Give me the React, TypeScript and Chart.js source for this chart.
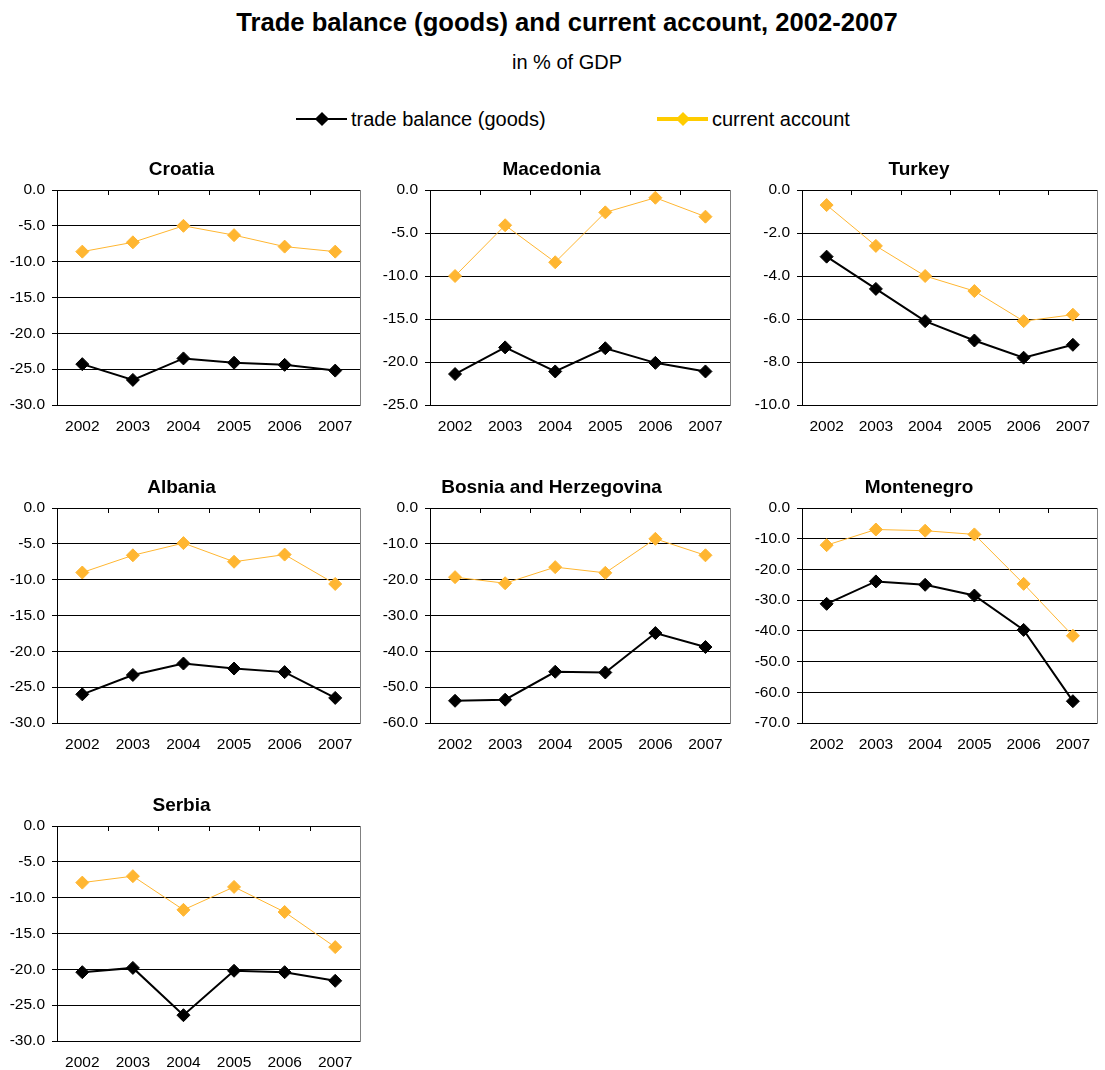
import React, { useEffect, useRef } from "react";
import { Chart, registerables } from "chart.js";

Chart.register(...registerables);

const FONT = "'Liberation Sans', Arial, Helvetica, sans-serif";

// Categories
const years = ["2002", "2003", "2004", "2005", "2006", "2007"];

// Series names
const tradeLabel = "trade balance (goods)";
const currentLabel = "current account";

// Values, % of GDP
const croatiaTrade = [-24.3, -26.5, -23.5, -24.1, -24.4, -25.2];
const croatiaCurrent = [-8.6, -7.3, -5.0, -6.3, -7.9, -8.6];
const macedoniaTrade = [-21.4, -18.3, -21.1, -18.4, -20.1, -21.1];
const macedoniaCurrent = [-10.0, -4.1, -8.4, -2.6, -0.9, -3.1];
const turkeyTrade = [-3.1, -4.6, -6.1, -7.0, -7.8, -7.2];
const turkeyCurrent = [-0.7, -2.6, -4.0, -4.7, -6.1, -5.8];
const albaniaTrade = [-26.0, -23.3, -21.7, -22.4, -22.9, -26.5];
const albaniaCurrent = [-9.0, -6.6, -4.9, -7.5, -6.5, -10.6];
const bosniaTrade = [-53.8, -53.5, -45.7, -45.9, -34.9, -38.8];
const bosniaCurrent = [-19.3, -21.0, -16.5, -18.1, -8.6, -13.2];
const montenegroTrade = [-31.2, -23.9, -25.0, -28.5, -39.7, -62.9];
const montenegroCurrent = [-12.1, -7.0, -7.4, -8.6, -24.7, -41.6];
const serbiaTrade = [-20.4, -19.8, -26.4, -20.2, -20.4, -21.6];
const serbiaCurrent = [-7.9, -7.0, -11.7, -8.5, -12.0, -16.9];

// Panel names and y-axis ranges (min, step; max is 0)
const countries = ["Croatia", "Macedonia", "Turkey", "Albania", "Bosnia and Herzegovina", "Montenegro", "Serbia"];
const tradeSeries = [croatiaTrade, macedoniaTrade, turkeyTrade, albaniaTrade, bosniaTrade, montenegroTrade, serbiaTrade];
const currentSeries = [croatiaCurrent, macedoniaCurrent, turkeyCurrent, albaniaCurrent, bosniaCurrent, montenegroCurrent, serbiaCurrent];
const axisMin = [-30, -25, -10, -30, -60, -70, -30];
const axisStep = [5, 5, 2, 5, 10, 10, 5];

const TRADE_COLOR = "#000000";
const CURRENT_COLOR = "#FFB631";
const LEGEND_CURRENT_COLOR = "#FFCC00";

// Grid placement of the small multiples
const colLeft = [0, 370, 735];
const colWidth = [368, 368, 370];
const colAxisWidth = [57, 60, 67];
const colPadRight = [5, 5, 2];
const rowTop = [150, 468, 786];
const PANEL_HEIGHT = 284;

// Plot frame: grey right edge and category tick marks hanging from the zero line
const framePlugin = {
  id: "panelFrame",
  beforeDatasetsDraw(chart: any) {
    const { ctx, chartArea: a, scales } = chart;
    const xs = scales.x;
    ctx.save();
    ctx.lineWidth = 1;
    ctx.strokeStyle = "#808080";
    ctx.beginPath();
    ctx.moveTo(Math.round(a.right) - 0.5, a.top);
    ctx.lineTo(Math.round(a.right) - 0.5, a.bottom);
    ctx.stroke();
    ctx.strokeStyle = "#000";
    ctx.beginPath();
    for (let i = 0; i < years.length - 1; i++) {
      const px = Math.round((xs.getPixelForValue(i) + xs.getPixelForValue(i + 1)) / 2) + 0.5;
      ctx.moveTo(px, a.top);
      ctx.lineTo(px, a.top + 5);
    }
    ctx.stroke();
    ctx.restore();
  },
};

function Panel({ index }: { index: number }) {
  const ref = useRef<HTMLCanvasElement | null>(null);
  const col = index % 3;
  const row = Math.floor(index / 3);

  useEffect(() => {
    if (!ref.current) return;
    const chart = new Chart(ref.current, {
      type: "line",
      data: {
        labels: years,
        datasets: [
          {
            label: tradeLabel,
            data: tradeSeries[index],
            borderColor: TRADE_COLOR,
            backgroundColor: TRADE_COLOR,
            borderWidth: 2,
            pointStyle: "rectRot",
            pointRadius: 6.5,
            pointBorderWidth: 1,
            pointBackgroundColor: TRADE_COLOR,
            pointBorderColor: TRADE_COLOR,
            tension: 0,
            order: 1,
          },
          {
            label: currentLabel,
            data: currentSeries[index],
            borderColor: CURRENT_COLOR,
            backgroundColor: CURRENT_COLOR,
            borderWidth: 1,
            pointStyle: "rectRot",
            pointRadius: 6.5,
            pointBorderWidth: 1,
            pointBackgroundColor: CURRENT_COLOR,
            pointBorderColor: CURRENT_COLOR,
            tension: 0,
            order: 0,
          },
        ],
      },
      options: {
        responsive: false,
        animation: false,
        events: [],
        layout: { padding: { left: 0, right: colPadRight[col], top: 0, bottom: 0 } },
        plugins: {
          legend: { display: false },
          tooltip: { enabled: false },
          title: {
            display: true,
            text: countries[index],
            color: "#000",
            font: { family: FONT, size: 19, weight: "bold" },
            padding: { top: 8, bottom: 9.2 },
          },
        },
        scales: {
          x: {
            type: "category",
            offset: true,
            grid: { display: false, drawTicks: false },
            border: { display: false },
            ticks: { color: "#000", font: { family: FONT, size: 15.5 }, padding: 12, maxRotation: 0, autoSkip: false },
            afterFit: (s: any) => {
              s.height = 29;
            },
          },
          y: {
            min: axisMin[index],
            max: 0,
            ticks: {
              stepSize: axisStep[index],
              color: "#000",
              font: { family: FONT, size: 15.5 },
              padding: 7,
              callback: (v: any) => Number(v).toFixed(1),
            },
            grid: { color: "#000", lineWidth: 1, tickLength: 5, drawTicks: true },
            border: { display: true, color: "#000", width: 1 },
            afterFit: (s: any) => {
              s.width = colAxisWidth[col];
            },
          },
        },
      },
      plugins: [framePlugin],
    } as any);
    return () => chart.destroy();
  }, [index, col]);

  return (
    <canvas
      ref={ref}
      width={colWidth[col]}
      height={PANEL_HEIGHT}
      style={{ position: "absolute", left: colLeft[col], top: rowTop[row], width: colWidth[col], height: PANEL_HEIGHT }}
    />
  );
}

function LegendItem({ left, color, thickness, label }: { left: number; color: string; thickness: number; label: string }) {
  return (
    <div style={{ position: "absolute", left, top: 107, height: 24, width: 260 }}>
      <div style={{ position: "absolute", left: 0, top: 12 - thickness / 2, width: 51, height: thickness, background: color }} />
      <div
        style={{
          position: "absolute",
          left: 25.5 - 5,
          top: 12 - 5,
          width: 10,
          height: 10,
          background: color,
          transform: "rotate(45deg)",
        }}
      />
      <div style={{ position: "absolute", left: 55, top: 0, lineHeight: "24px", fontSize: 20, fontFamily: FONT, color: "#000", whiteSpace: "nowrap" }}>
        {label}
      </div>
    </div>
  );
}

export default function App() {
  return (
    <div style={{ position: "absolute", left: 0, top: 0, width: 1105, height: 1070, background: "#fff", overflow: "hidden" }}>
      <div
        style={{
          position: "absolute",
          left: 0,
          top: 7,
          width: 1134,
          textAlign: "center",
          fontFamily: FONT,
          fontWeight: "bold",
          fontSize: 25.6,
          lineHeight: "30px",
          color: "#000",
        }}
      >
        Trade balance (goods) and current account, 2002-2007
      </div>
      <div
        style={{
          position: "absolute",
          left: 0,
          top: 50,
          width: 1134,
          textAlign: "center",
          fontFamily: FONT,
          fontSize: 20,
          lineHeight: "24px",
          color: "#000",
        }}
      >
        in % of GDP
      </div>
      <LegendItem left={296} color={TRADE_COLOR} thickness={2} label={tradeLabel} />
      <LegendItem left={657} color={LEGEND_CURRENT_COLOR} thickness={4} label={currentLabel} />
      {countries.map((_, i) => (
        <Panel key={i} index={i} />
      ))}
    </div>
  );
}
